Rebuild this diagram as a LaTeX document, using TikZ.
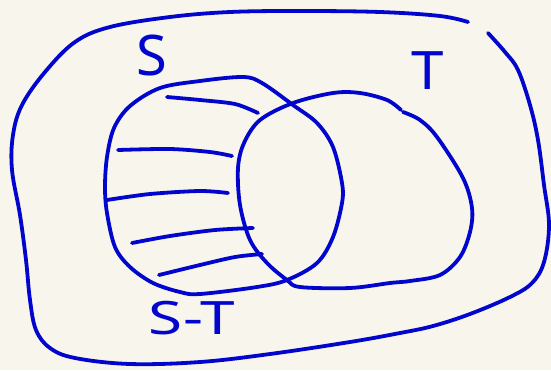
\documentclass[tikz,border=0pt]{standalone}
\usepackage{fontspec}
\setmainfont{Noto Sans}
\definecolor{ink}{RGB}{2,6,205}
\definecolor{paper}{RGB}{248,246,236}
\tikzset{
  pen/.style={draw=ink, line width=3.8pt, line cap=round, line join=round},
  lbl/.style={text=ink, inner sep=0pt, anchor=center},
}
\begin{document}
\begin{tikzpicture}[x=1pt,y=-1pt]
\fill[paper] (0,0) rectangle (551,370);
\useasboundingbox (0,0) rectangle (551,370);
% outer universe
\draw[pen] plot[smooth, tension=0.6] coordinates {
 (468,22) (440,16) (380,12) (300,11) (230,12) (170,17) (110,27) (75,42)
 (45,72) (22,105) (13,135) (12,170) (20,215) (26,260) (30,300) (36,330)
 (50,348) (75,358) (130,364) (200,362) (270,354) (350,342) (400,333)
 (433,326) (470,314) (510,297) (532,283) (544,262) (549,225) (544,185)
 (538,140) (530,105) (518,70) (505,52) (488,33)};
% set S
\draw[pen] plot[smooth cycle, tension=0.55] coordinates {
 (200,81) (243,77) (262,83) (293,105) (317,123) (333,147) (342,183)
 (342,203) (333,237) (317,263) (287,280) (257,287) (200,294) (180,292)
 (153,283) (130,267) (115,247) (107,213) (105,187) (107,157) (114,128)
 (130,106) (160,88)};
% set T
\draw[pen] plot[smooth, tension=0.55] coordinates {
 (403,112) (420,120) (437,137) (463,178) (472,208) (470,232) (460,257)
 (440,275) (410,281) (390,283) (350,288) (300,287) (287,280) (267,263)
 (250,240) (240,205) (238,168) (244,143) (260,120) (293,103) (333,93)
 (360,93) (387,100) (401,110)};
% hatching of S-T
\draw[pen] plot[smooth] coordinates {(167,97) (200,100) (235,104) (258,113)};
\draw[pen] plot[smooth] coordinates {(118,150) (170,149) (210,152) (232,156)};
\draw[pen] plot[smooth] coordinates {(107,200) (150,194) (200,191) (228,193)};
\draw[pen] plot[smooth] coordinates {(132,243) (170,236) (215,230) (253,228)};
\draw[pen] plot[smooth] coordinates {(159,275) (200,265) (235,257) (262,254)};
% labels
\node[lbl, font=\fontsize{56}{60}\selectfont] (labS) at (152,56) {S};
\node[lbl, font=\fontsize{53}{58}\selectfont, xscale=1.1] (labT) at (428,71) {T};
\node[lbl, font=\fontsize{46}{50}\selectfont, xscale=1.35] (labST) at (192,318) {S-T};
\end{tikzpicture}
\end{document}
